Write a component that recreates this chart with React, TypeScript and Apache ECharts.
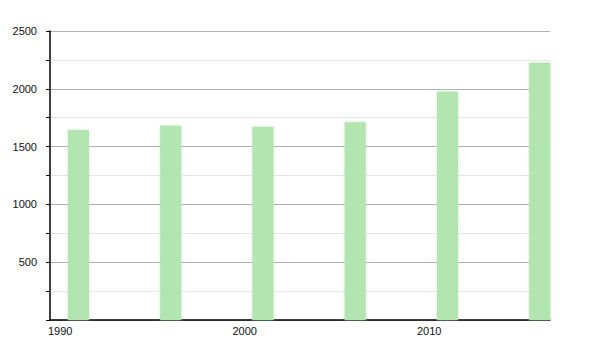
import React, { useEffect, useRef } from "react";
import * as echarts from "echarts";

const years = [1991, 1996, 2001, 2006, 2011, 2016];
const population = [1644, 1681, 1672, 1710, 1975, 2226];
const xTickYears = [1990, 2000, 2010];
const yTicks = [500, 1000, 1500, 2000, 2500];

export default function App() {
  const ref = useRef<HTMLDivElement>(null);
  useEffect(() => {
    if (!ref.current) return;
    const chart = echarts.init(ref.current, null, { renderer: "svg" });
    const data = years.map((y, i) => [y, population[i]]);
    chart.setOption({
      animation: false,
      grid: { left: 50, right: 50, top: 31, bottom: 30 },
      xAxis: {
        type: "value",
        min: xTickYears[0],
        max: 2017.1,
        interval: 10,
        axisLine: { show: true, lineStyle: { color: "#000", width: 1.5 } },
        axisTick: { show: false },
        splitLine: { show: false },
        axisLabel: {
          align: "left",
          margin: 5,
          padding: [0, 0, 0, -2],
          fontSize: 11,
          color: "#111",
          fontFamily: "Liberation Sans, Arial, sans-serif",
          showMaxLabel: false,
          formatter: (v: number) => (xTickYears.includes(v) ? String(v) : ""),
        },
      },
      yAxis: {
        type: "value",
        min: 0,
        max: yTicks[yTicks.length - 1],
        interval: 500,
        axisLine: { show: true, lineStyle: { color: "#000", width: 1.5 } },
        axisTick: { show: true, length: 4, lineStyle: { color: "#000" } },
        minorTick: { show: true, splitNumber: 2, length: 4, lineStyle: { color: "#000" } },
        splitLine: { show: true, lineStyle: { color: "#b0b0b0", width: 1 } },
        minorSplitLine: { show: true, lineStyle: { color: "#e6e6e6", width: 1 } },
        axisLabel: {
          margin: 13,
          fontSize: 11,
          color: "#111",
          fontFamily: "Liberation Sans, Arial, sans-serif",
          formatter: (v: number) => (v === 0 ? "" : String(v)),
        },
      },
      series: [
        {
          type: "custom",
          data,
          renderItem: (params: any, api: any) => {
            const top = api.coord([api.value(0), api.value(1)]);
            const base = api.coord([api.value(0), 0]);
            return {
              type: "rect",
              shape: { x: top[0] - 0.5, y: top[1], width: 21, height: base[1] - top[1] },
              style: { fill: "#b3e5b0", shadowBlur: 2, shadowColor: "rgba(179,229,176,0.8)" },
            };
          },
        },
      ],
    });
    return () => chart.dispose();
  }, []);
  return (
    <div
      ref={ref}
      style={{ position: "absolute", left: 0, top: 0, width: 600, height: 350 }}
    />
  );
}
